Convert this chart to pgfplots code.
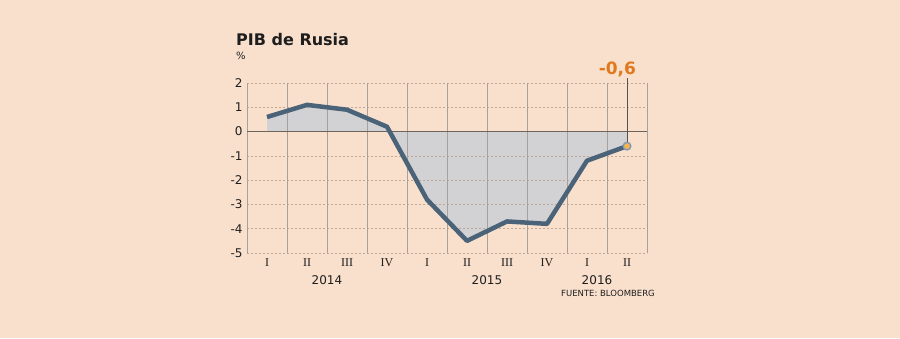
\documentclass[border=0pt]{standalone}
\usepackage{pgfplots}
\pgfplotsset{compat=1.18}
\usepackage{fontspec}
\setmainfont{DejaVu Sans}
\newfontfamily\serifnum{Liberation Serif}
\definecolor{bgc}{RGB}{249,224,205}
\definecolor{linec}{RGB}{74,99,120}
\definecolor{fillc}{RGB}{210,210,212}
\definecolor{gridc}{RGB}{168,160,154}
\definecolor{dashc}{RGB}{190,168,152}
\definecolor{zeroc}{RGB}{110,100,92}
\definecolor{orangec}{RGB}{226,120,30}
\definecolor{dotc}{RGB}{242,182,80}
\definecolor{ringc}{RGB}{130,152,178}
\definecolor{txtc}{RGB}{30,30,30}
\pagecolor{bgc}
\begin{document}
\begin{tikzpicture}
\path (0pt,0pt) rectangle (900pt,338pt);
\node[anchor=base west,font=\fontsize{16}{16}\selectfont\bfseries,text=txtc,inner sep=0] at (236pt,292pt) {PIB de Rusia};
\node[anchor=base west,font=\fontsize{10}{10}\selectfont,text=txtc,inner sep=0] at (236pt,278pt) {\%};
\begin{axis}[
  set layers,
  at={(247pt,85pt)}, anchor=south west,
  scale only axis, width=400pt, height=170pt,
  xmin=0, xmax=10, ymin=-5, ymax=2,
  clip=false,
  axis line style={draw=none},
  tick style={draw=none},
  xtick={0.5,1.5,...,9.5},
  xticklabels={I,II,III,IV,I,II,III,IV,I,II},
  xticklabel style={font=\serifnum\fontsize{12}{12}\selectfont, text=txtc, yshift=-2pt},
  ytick={-5,-4,...,2},
  yticklabels={-5,-4,-3,-2,-1,0,1,2},
  yticklabel style={font=\fontsize{12}{12}\selectfont, text=txtc, xshift=-1pt},
  ymajorgrids,
  y grid style={dashc, dash pattern=on 2pt off 2pt, line width=0.7pt},
  extra x ticks={0,1,...,10},
  extra x tick labels={},
  extra x tick style={xmajorgrids=true, x grid style={gridc, solid, line width=0.7pt}},
]
\addplot[on layer=axis background, fill=fillc, draw=none] coordinates {
(0.5,0.6) (1.5,1.1) (2.5,0.9) (3.5,0.2) (4.5,-2.8) (5.5,-4.5) (6.5,-3.7) (7.5,-3.8) (8.5,-1.2) (9.5,-0.6)
} \closedcycle;
\draw[zeroc, line width=1.8pt] (axis cs:0,0) -- (axis cs:10,0);
\draw[zeroc!80!black, line width=0.8pt] (axis cs:9.5,-0.6) -- (axis cs:9.5,2.2);
\addplot[linec, line width=4.5pt, line join=round, line cap=butt, mark=none] coordinates {
(0.5,0.6) (1.5,1.1) (2.5,0.9) (3.5,0.2) (4.5,-2.8) (5.5,-4.5) (6.5,-3.7) (7.5,-3.8) (8.5,-1.2) (9.5,-0.6)
};
\addplot[only marks, mark=*, mark size=3.8pt, mark options={fill=dotc, draw=ringc, line width=1.4pt}] coordinates {(9.5,-0.6)};
\node[anchor=base, text=orangec, font=\fontsize{17}{17}\selectfont\bfseries, inner sep=0] at (axis cs:9.26,2.33) {-0,6};
\node[anchor=base, text=txtc, font=\fontsize{12}{12}\selectfont, inner sep=0] at (axis cs:2,-6.28) {2014};
\node[anchor=base, text=txtc, font=\fontsize{12}{12}\selectfont, inner sep=0] at (axis cs:6,-6.28) {2015};
\node[anchor=base, text=txtc, font=\fontsize{12}{12}\selectfont, inner sep=0] at (axis cs:8.75,-6.28) {2016};
\node[anchor=base east, text=txtc, font=\fontsize{8.5}{8.5}\selectfont, inner sep=0] at (axis cs:10.2,-6.8) {FUENTE: BLOOMBERG};
\end{axis}
\end{tikzpicture}
\end{document}
